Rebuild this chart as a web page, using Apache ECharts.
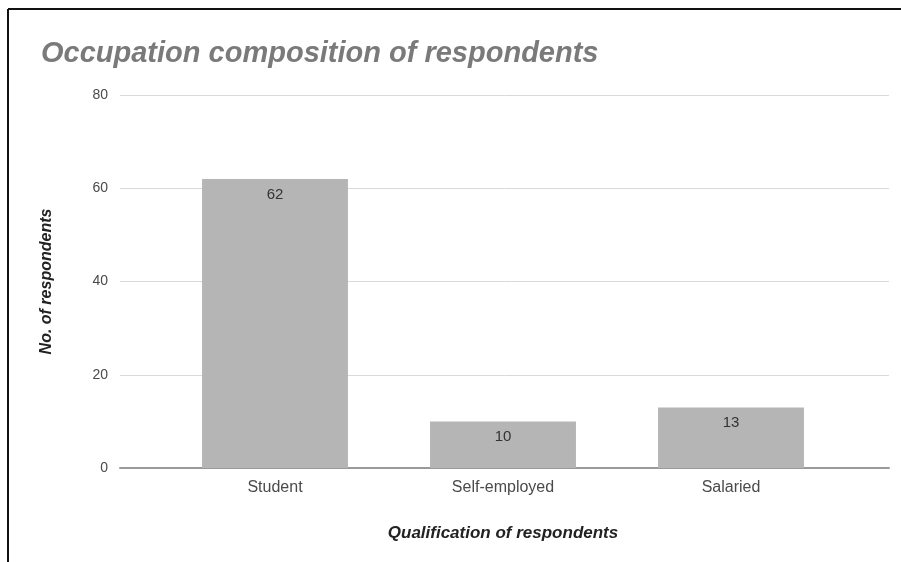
<!DOCTYPE html>
<html>
<head>
<meta charset="utf-8">
<script src="https://cdn.jsdelivr.net/npm/echarts@6/dist/echarts.min.js"></script>
<style>
  html, body { margin: 0; padding: 0; background: #fff; }
  #chart { width: 901px; height: 562px; }
</style>
</head>
<body>
<div id="chart"></div>
<script>
// Occupation counts of survey respondents
const categories = ['Student', 'Self-employed', 'Salaried'];
const respondents = [62, 10, 13];
const yTicks = [0, 20, 40, 60, 80];

const chart = echarts.init(document.getElementById('chart'));
const font = 'Arial, "Liberation Sans", Helvetica, sans-serif';

chart.setOption({
  backgroundColor: '#ffffff',
  animation: false,
  title: {
    text: 'Occupation composition of respondents',
    left: 36, top: 34,
    textStyle: { fontFamily: font, fontSize: 29, fontWeight: 'bold', fontStyle: 'italic', color: '#7a7a7a' }
  },
  graphic: [
    // frame around the figure (left and top edges)
    { type: 'line', shape: { x1: 8, y1: 9, x2: 8, y2: 562 }, style: { stroke: '#111', lineWidth: 2 } },
    { type: 'line', shape: { x1: 8, y1: 9, x2: 901, y2: 9 }, style: { stroke: '#111', lineWidth: 2 } }
  ],
  grid: [
    // wide grid for the value scale and gridlines
    { left: 120, right: 12, top: 95, bottom: 94 },
    // inner grid that holds the bars
    { left: 161, right: 56, top: 95, bottom: 94 }
  ],
  xAxis: [
    {
      gridIndex: 0, type: 'category', data: [''],
      axisLine: { show: true, lineStyle: { color: '#9a9a9a', width: 2 } },
      axisTick: { show: false }, axisLabel: { show: false }
    },
    {
      gridIndex: 1, type: 'category', data: categories,
      axisLine: { show: false }, axisTick: { show: false },
      axisLabel: { fontFamily: font, fontSize: 16, color: '#4a4a4a', margin: 12 },
      name: 'Qualification of respondents', nameLocation: 'middle', nameGap: 57,
      nameTextStyle: { fontFamily: font, fontSize: 17, fontWeight: 'bold', fontStyle: 'italic', color: '#222' }
    }
  ],
  yAxis: [
    {
      gridIndex: 0, type: 'value', min: yTicks[0], max: yTicks[yTicks.length - 1], interval: 20,
      axisLine: { show: false }, axisTick: { show: false },
      axisLabel: { fontFamily: font, fontSize: 14, color: '#4a4a4a', margin: 12 },
      splitLine: { lineStyle: { color: '#d9d9d9', width: 1 } },
      name: 'No. of respondents', nameLocation: 'middle', nameGap: 65, nameRotate: 90,
      nameTextStyle: { fontFamily: font, fontSize: 16, fontWeight: 'bold', fontStyle: 'italic', color: '#222' }
    },
    {
      gridIndex: 1, type: 'value', min: yTicks[0], max: yTicks[yTicks.length - 1], interval: 20,
      show: false, splitLine: { show: false }
    }
  ],
  series: [{
    type: 'bar',
    xAxisIndex: 1, yAxisIndex: 1,
    data: respondents,
    barWidth: '64%',
    itemStyle: { color: '#b5b5b5' },
    z: 3,
    label: {
      show: true, position: 'insideTop', distance: 8,
      fontFamily: font, fontSize: 15, color: '#333'
    }
  }]
});
</script>
</body>
</html>
